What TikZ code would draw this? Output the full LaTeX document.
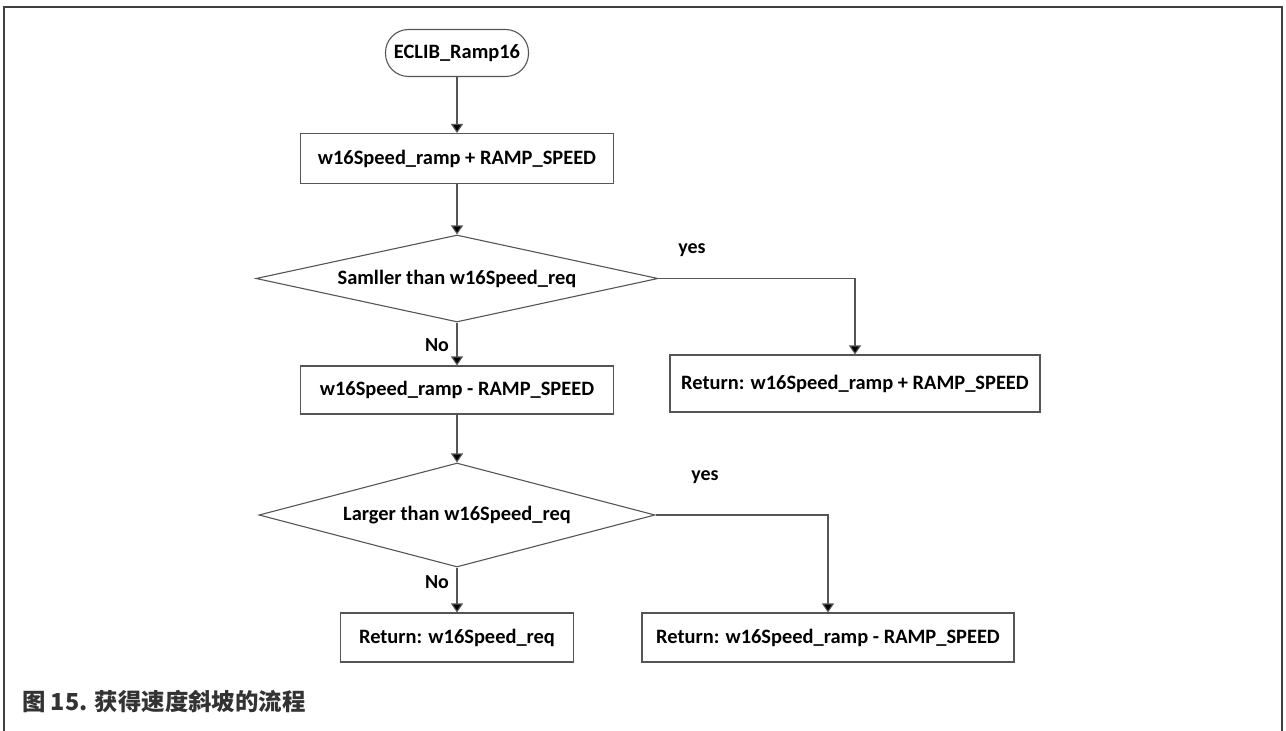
\documentclass[tikz,border=0pt]{standalone}
\usepackage{fontspec}
\setmainfont{Carlito}
\newfontfamily\cjk{Noto Sans CJK SC}
\usetikzlibrary{shapes.geometric,arrows.meta}
\definecolor{framegray}{HTML}{404040}
\definecolor{linegray}{HTML}{555555}
\definecolor{captiongray}{HTML}{333333}
\tikzset{
  boxfont/.style={font=\bfseries\fontsize{20.5}{23}\selectfont},
  flowline/.style={draw=linegray, line width=1.1bp},
  flowarrow/.style={flowline, -{Triangle[length=9bp,width=12bp,fill=black]}},
  procbox/.style={draw=linegray, line width=1.1bp, rectangle, minimum height=50bp, inner sep=0pt, boxfont},
  decision/.style={draw=linegray, line width=1.1bp, diamond, aspect=4.6, inner sep=0pt, boxfont},
  terminal/.style={draw=linegray, line width=1.1bp, rectangle, rounded corners=23bp, minimum width=143bp, minimum height=47bp, inner sep=0pt, boxfont},
  lbl/.style={font=\bfseries\fontsize{20}{22}\selectfont, inner sep=0pt}
}
\begin{document}
\begin{tikzpicture}[x=1bp,y=-1bp]
  \useasboundingbox (0,0) rectangle (1286,731);
  % page frame (open at the bottom)
  \draw[framegray, line width=2.5bp] (4,731) -- (4,7) -- (1282,7) -- (1282,731);

  % nodes
  \node[terminal] (start) at (457,53) {ECLIB\_Ramp16};
  \node[procbox, minimum width=313bp] (add) at (457,158.5) {w16Speed\_ramp + RAMP\_SPEED};
  \node[decision, minimum width=402bp, minimum height=87bp] (cmp1) at (457,278.5) {Samller than w16Speed\_req};
  \node[procbox, minimum width=370bp, minimum height=57bp] (retadd) at (855,383.5) {Return: w16Speed\_ramp + RAMP\_SPEED};
  \node[procbox, minimum width=313bp, minimum height=48bp] (sub) at (457,390) {w16Speed\_ramp - RAMP\_SPEED};
  \node[decision, minimum width=396bp, minimum height=104bp] (cmp2) at (457,515) {Larger than w16Speed\_req};
  \node[procbox, minimum width=233bp, minimum height=49bp] (retreq) at (457,637.5) {Return: w16Speed\_req};
  \node[procbox, minimum width=372bp, minimum height=49bp] (retsub) at (828,637.5) {Return: w16Speed\_ramp - RAMP\_SPEED};

  % branch labels
  \node[lbl] (yes1) at (692,250) {yes};
  \node[lbl] (no1) at (437,345) {No};
  \node[lbl] (yes2) at (705,477) {yes};
  \node[lbl] (no2) at (437,582) {No};

  % connectors
  \draw[flowarrow] (start) -- (add);
  \draw[flowarrow] (add) -- (cmp1);
  \draw[flowarrow] (cmp1.south) -- (sub.north);
  \draw[flowarrow] (cmp1.east) -| (retadd.north);
  \draw[flowarrow] (sub) -- (cmp2.north);
  \draw[flowarrow] (cmp2.south) -- (retreq.north);
  \draw[flowarrow] (cmp2.east) -| (retsub.north);

  % caption
  \node[anchor=west, inner sep=0pt, text=captiongray, font=\cjk\bfseries\fontsize{23.5}{27}\selectfont] (caption) at (22,702) {图 15. 获得速度斜坡的流程};
\end{tikzpicture}
\end{document}
